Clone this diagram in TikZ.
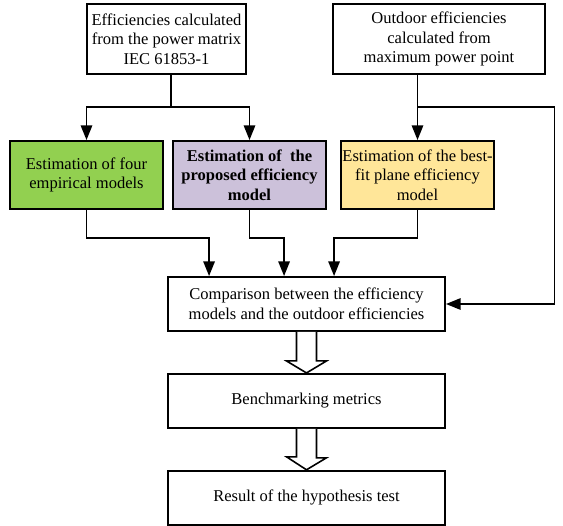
\documentclass[tikz,border=0pt]{standalone}
\usepackage{fontspec}
\setmainfont{Liberation Serif}
\usetikzlibrary{positioning,arrows.meta,calc}
\usepackage{xcolor}
\definecolor{empgreen}{HTML}{92D050}
\definecolor{propviolet}{HTML}{CCC1DA}
\definecolor{fityellow}{HTML}{FFE699}

\begin{document}
\begin{tikzpicture}[x=0.75pt,y=-0.75pt,line width=1.4pt]
      \tikzstyle{obj}=[draw, align=center, inner sep=0pt,
        font=\fontsize{12.4pt}{14.8pt}\selectfont];
      \tikzstyle{src}=[obj, minimum height=52.5pt];
      \tikzstyle{est}=[obj, minimum width=114.75pt, minimum height=51pt];
      \tikzstyle{res}=[obj, minimum width=207.75pt, minimum height=40.5pt];
      \tikzstyle{arr}=[-{Triangle[length=11pt,width=8.5pt]}];
      \tikzstyle{fat}=[draw, fill=white, line width=1.2pt];

      \useasboundingbox (0,0) rectangle (563,525);

      \node (src1) at (166.5,39)[src, minimum width=119.25pt]{Efficiencies calculated\\from the power matrix\\IEC 61853-1};
      \node (src2) at (439,39)[src, minimum width=159pt]{Outdoor efficiencies\\calculated from\\maximum power point};

      \node (emp) at (86.5,175)[est, fill=empgreen]{Estimation of four\\empirical models};
      \node (prop) at (249.5,175)[est, fill=propviolet, font=\fontsize{12.4pt}{14.8pt}\selectfont\bfseries]{Estimation of \ the\\proposed efficiency\\model};
      \node (fit) at (417.5,175)[est, fill=fityellow]{Estimation of the best-\\fit plane efficiency\\model};

      \node (cmp) at (306.5,304)[res]{Comparison between the efficiency\\models and the outdoor efficiencies};
      \node (bench) [below=30.75pt of cmp, res]{Benchmarking metrics};
      \node (hyp) [below=30.75pt of bench, res]{Result of the hypothesis test};

      \coordinate (j1) at (171,107);
      \coordinate (j2) at (417.5,107);

      \draw (src1.south -| j1) -- (j1);
      \draw [arr] (j1) -| (emp.north);
      \draw [arr] (j1) -| (prop.north);

      \draw [arr] (src2.south -| fit.north) -- (fit.north);
      \draw [arr] (j2) -- ++(137,0) |- (cmp.east);

      \draw [arr] (emp.south) -- ++(0,28) -| ($(cmp.north west)+(42,0)$);
      \draw [arr] (prop.south) -- ++(0,28) -| ($(cmp.north west)+(117,0)$);
      \draw [arr] (fit.south) -- ++(0,28) -| ($(cmp.north west)+(167,0)$);

      \draw [fat] ($(cmp.south)+(-10,0)$) -- ++(0,29) -- ++(-10,0) -- (bench.north)
        -- ++(20,-12) -- ++(-10,0) -- ($(cmp.south)+(10,0)$);
      \draw [fat] ($(bench.south)+(-10,0)$) -- ++(0,28) -- ++(-10,0) -- (hyp.north)
        -- ++(20,-12) -- ++(-10,0) -- ($(bench.south)+(10,0)$);

    \end{tikzpicture}
\end{document}
